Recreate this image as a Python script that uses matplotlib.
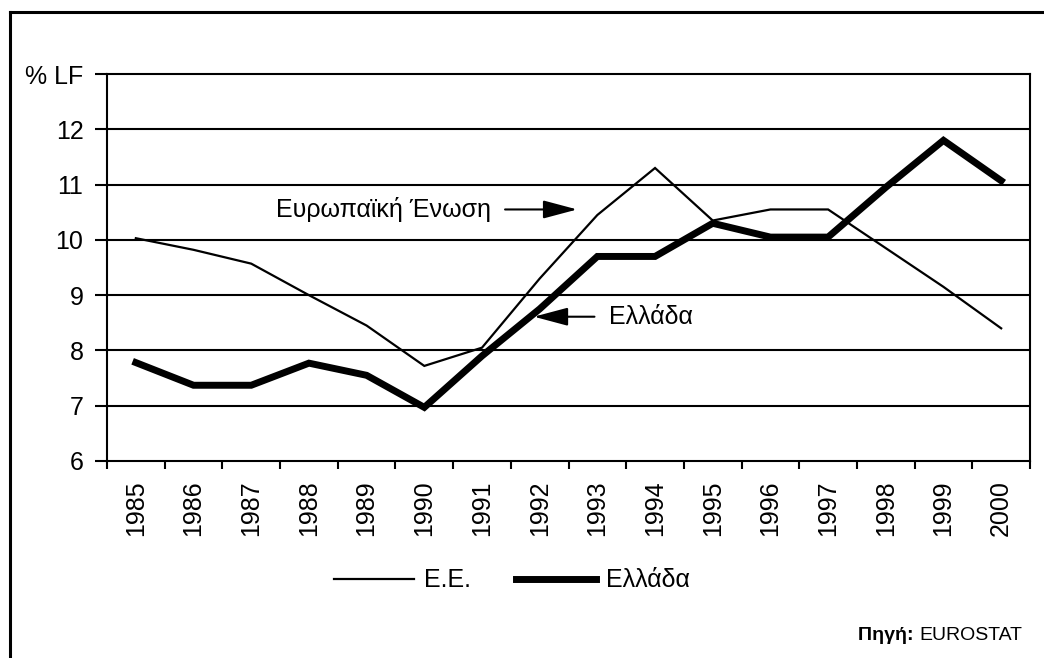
import matplotlib
matplotlib.use("Agg")
from matplotlib import pyplot as plt
from matplotlib.lines import Line2D
import numpy as np

plt.rcParams['font.family'] = ['Liberation Sans', 'DejaVu Sans']

# data (unemployment, % of labour force)
years = ['1985', '1986', '1987', '1988', '1989', '1990', '1991', '1992',
         '1993', '1994', '1995', '1996', '1997', '1998', '1999', '2000']
eu = [10.03, 9.82, 9.57, 9.0, 8.45, 7.72, 8.05, 9.3,
      10.45, 11.3, 10.35, 10.55, 10.55, 9.85, 9.15, 8.4]
greece = [7.78, 7.37, 7.37, 7.77, 7.55, 6.97, 7.9, 8.75,
          9.7, 9.7, 10.3, 10.05, 10.05, 10.95, 11.8, 11.07]
ytick_vals = [6, 7, 8, 9, 10, 11, 12, 13]
ytick_labels = ['6', '7', '8', '9', '10', '11', '12', '% LF']

fig = plt.figure(figsize=(10.44, 6.58), dpi=100)
ax = fig.add_axes([0.1025, 0.2994, 0.8841, 0.5881])

x = np.arange(len(years))
l1, = ax.plot(x, eu, color='black', lw=1.6, solid_joinstyle='miter')
l2, = ax.plot(x, greece, color='black', lw=5, solid_joinstyle='miter')

# axes
ax.set_xlim(-0.5, len(years) - 0.5)
ax.set_ylim(6, 13)
ax.set_yticks(ytick_vals)
ax.set_yticklabels(ytick_labels, fontsize=18)
for v in ytick_vals[1:-1]:
    ax.axhline(v, color='black', lw=1.5, zorder=1)

ax.set_xticks(np.arange(-0.5, len(years)), minor=False)
ax.set_xticklabels([])
ax.set_xticks(x, minor=True)
ax.set_xticklabels(years, minor=True, rotation=90, fontsize=18)
ax.tick_params(axis='x', which='major', direction='out', length=6, width=1.5)
ax.tick_params(axis='x', which='minor', length=0, pad=14)
ax.tick_params(axis='y', direction='out', length=9, width=1.5, pad=8)
for s in ax.spines.values():
    s.set_linewidth(1.5)

# annotations
arrow = dict(arrowstyle='-|>,head_length=1.05,head_width=0.28',
             mutation_scale=20, lw=1.5, color='black', shrinkA=0, shrinkB=0)
ax.text(6.15, 10.55, 'Ευρωπαϊκή Ένωση', fontsize=18, ha='right', va='center')
ax.annotate('', xy=(7.65, 10.55), xytext=(6.4, 10.55), arrowprops=arrow)
ax.text(8.2, 8.61, 'Ελλάδα', fontsize=18, ha='left', va='center')
ax.annotate('', xy=(6.9, 8.61), xytext=(7.95, 8.61), arrowprops=arrow)

# legend
fig.legend([l1, l2], ['Ε.Ε.', 'Ελλάδα'], loc='center',
           bbox_to_anchor=(0.49, 0.118), ncol=2, frameon=False,
           handlelength=3.2, columnspacing=1.8, handletextpad=0.4, fontsize=18)

# source
src = fig.text(1022 / 1044, 1 - 635 / 658, 'EUROSTAT', fontsize=14,
               ha='right', va='center')
ax.annotate('Πηγή: ', xy=(0, 0.5), xycoords=src, fontsize=14,
            fontweight='bold', ha='right', va='center', annotation_clip=False)

# outer frame (top and left)
fig.add_artist(Line2D([10 / 1044, 1.0], [1 - 12 / 658, 1 - 12 / 658],
                      color='black', lw=2.2, transform=fig.transFigure))
fig.add_artist(Line2D([10 / 1044, 10 / 1044], [0, 1 - 12 / 658],
                      color='black', lw=2.2, transform=fig.transFigure))

fig.savefig('out.png', dpi=100)
